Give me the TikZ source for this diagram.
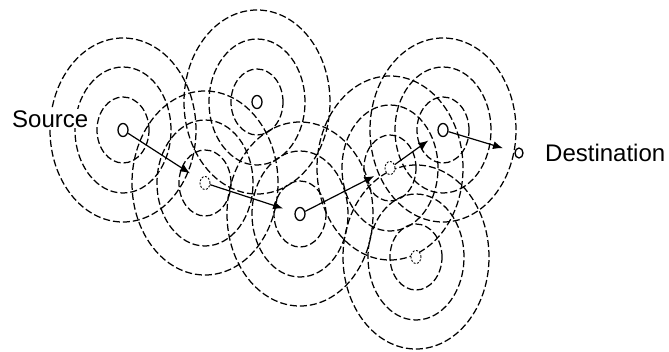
\documentclass[tikz,border=0pt]{standalone}
\usepackage{fontspec}
\setmainfont{Liberation Sans}
\usetikzlibrary{arrows.meta,shapes.geometric}
\tikzset{
  txrange/.style={draw=black, line width=1.25pt, dash pattern=on 7pt off 3pt},
  sensor/.style={draw, ellipse, line width=1.3pt, minimum width=10pt, minimum height=13pt, inner sep=0pt, fill=white},
  faintsensor/.style={sensor, dash pattern=on 2pt off 1.5pt, line width=0.9pt},
  hop/.style={line width=1.2pt, -{Latex[length=10pt,width=8pt]}, shorten >=12pt},
  lbl/.style={font=\fontsize{24}{28}\selectfont, inner sep=1pt, fill=white, anchor=base west},
}
\begin{document}
\begin{tikzpicture}[x=1pt,y=-1pt]
\useasboundingbox (0,0) rectangle (669,351);
% sensor positions
\coordinate (c1) at (123,130);
\coordinate (c2) at (257,102);
\coordinate (c3) at (205,183);
\coordinate (c4) at (300,214);
\coordinate (c5) at (390,168);
\coordinate (c6) at (443,130);
\coordinate (c7) at (416,257);
\coordinate (cd) at (519,153);
% transmission ranges
\foreach \c in {c1,c2,c3,c4,c5,c6,c7}{
  \draw[txrange] (\c) ellipse [x radius=26pt, y radius=33pt];
  \draw[txrange] (\c) ellipse [x radius=48pt, y radius=63pt];
  \draw[txrange] (\c) ellipse [x radius=73pt, y radius=92pt];
}
% sensors
\node[sensor] (n1) at (c1) {};
\node[sensor] (n2) at (c2) {};
\node[faintsensor] (n3) at (c3) {};
\node[sensor] (n4) at (c4) {};
\node[faintsensor] (n5) at (c5) {};
\node[sensor] (n6) at (c6) {};
\node[faintsensor] (n7) at (c7) {};
\node[sensor, minimum width=8pt, minimum height=10pt] (nd) at (cd) {};
% route
\draw[hop] (n1) -- (n3);
\draw[hop] (n3) -- (n4);
\draw[hop] (n4) -- (n5);
\draw[hop] (n5) -- (n6);
\draw[hop] (n6) -- (nd);
% labels
\node[lbl] (src) at (11,127) {Source};
\node[lbl] (dst) at (544,161) {Destination};
\end{tikzpicture}
\end{document}
